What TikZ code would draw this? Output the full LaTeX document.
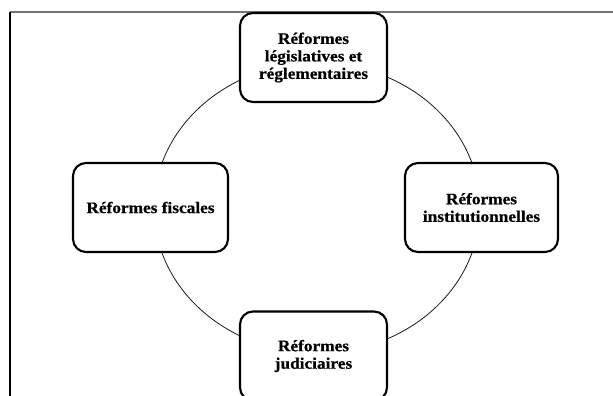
\documentclass[tikz,border=0pt]{standalone}
\usepackage{fontspec}
\setmainfont{Liberation Serif}
\newfontfamily\boxfont[FakeStretch=1.08, FakeBold=0.6]{Liberation Serif Bold}
\begin{document}
\begin{tikzpicture}[x=1pt,y=-1pt,
  reform/.style={draw=black, line width=2.1pt, rounded corners=13pt, fill=white,
    align=center, font=\boxfont\fontsize{16}{17.5}\selectfont, inner sep=2pt,
    minimum height=89pt},
  cycle/.style={draw=black!90, line width=0.8pt}]
  \useasboundingbox (0,0) rectangle (613,396);
  \clip (0,0) rectangle (613,396);
  % page frame
  \draw[black!55, line width=1.5pt] (10,12) -- (613,12);
  \draw[black, line width=1.5pt] (10,12) -- (10,396);
  % cycle linking the four reforms
  \coordinate (c) at (317,208);
  \draw[cycle] (c) ellipse [x radius=163, y radius=145];
  % reform boxes
  \node[reform, minimum width=147pt] (leg) at (313.5,57.5)
    {Réformes\\législatives et\\réglementaires};
  \node[reform, minimum width=155pt] (fis) at (150.5,207.5)
    {Réformes fiscales};
  \node[reform, minimum width=153pt] (ins) at (481.5,207.5)
    {Réformes\\institutionnelles};
  \node[reform, minimum width=147pt] (jud) at (313.5,356)
    {Réformes\\judiciaires};
\end{tikzpicture}
\end{document}
